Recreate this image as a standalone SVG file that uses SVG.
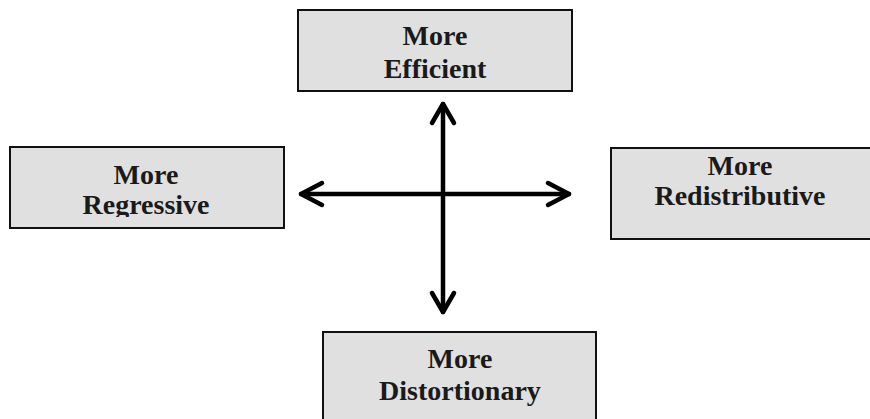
<svg xmlns="http://www.w3.org/2000/svg" width="870" height="419" viewBox="0 0 870 419">
<style>
.box{fill:#e0e0e0;stroke:#111;stroke-width:2}
.t{font-family:"Liberation Serif","Times New Roman",serif;font-weight:bold;font-size:28px;fill:#1a1a1a;text-anchor:middle}
.ax{stroke:#000;stroke-width:4.5;stroke-linecap:round;stroke-linejoin:round;fill:none}
</style>
<defs>
<clipPath id="clipL"><rect x="10" y="147" width="274" height="70"/></clipPath>
</defs>
<rect width="870" height="419" fill="#fff"/>
<g id="node-efficient">
<rect class="box" x="298" y="10" width="274" height="81"/>
<text class="t" x="435" y="45">More</text>
<text class="t" x="435" y="78">Efficient</text>
</g>
<g id="node-regressive">
<rect class="box" x="10" y="147" width="274" height="81"/>
<g clip-path="url(#clipL)">
<text class="t" x="146" y="184">More</text>
<text class="t" x="146" y="214">Regressive</text>
</g>
</g>
<g id="node-redistributive">
<rect class="box" x="611" y="148" width="262" height="91"/>
<text class="t" x="740" y="175">More</text>
<text class="t" x="740" y="205">Redistributive</text>
</g>
<g id="node-distortionary">
<rect class="box" x="323" y="332" width="273" height="92"/>
<text class="t" x="460" y="368">More</text>
<text class="t" x="460" y="400">Distortionary</text>
</g>
<g id="connectors">
<path class="ax" d="M443 104 V312"/>
<path class="ax" d="M301 194 H569"/>
<path class="ax" d="M432 123 L443 104 L454 123"/>
<path class="ax" d="M432 293 L443 312 L454 293"/>
<path class="ax" d="M322 183 L301 194 L322 205"/>
<path class="ax" d="M548 183 L569 194 L548 205"/>
</g>
</svg>
